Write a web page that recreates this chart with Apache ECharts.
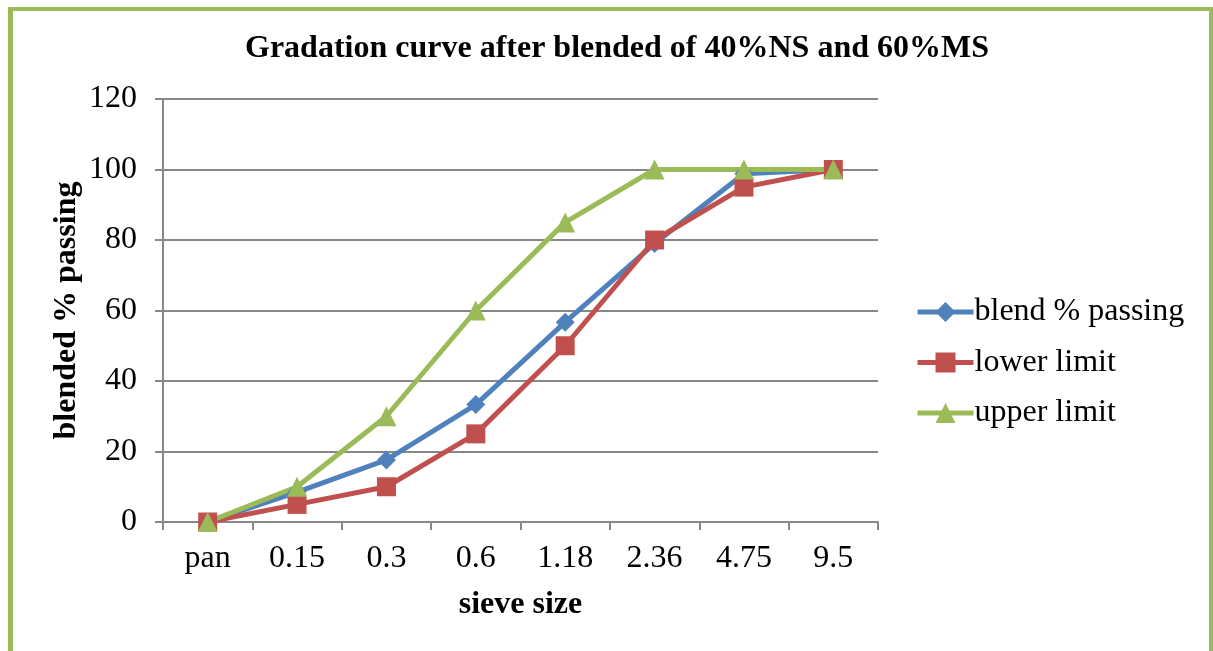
<!DOCTYPE html>
<html>
<head>
<meta charset="utf-8">
<script src="https://cdn.jsdelivr.net/npm/echarts@6/dist/echarts.min.js"></script>
<style>
  html, body { margin: 0; padding: 0; background: #fff; }
  #chart { width: 1213px; height: 651px; }
</style>
</head>
<body>
<div id="chart"></div>
<script>
// Sieve sizes (mm) on the category axis
const sieveSizes = ['pan', '0.15', '0.3', '0.6', '1.18', '2.36', '4.75', '9.5'];
// Percent passing for the blended sand and the specification band
const blendPassing = [0, 8.5, 17.6, 33.3, 56.7, 79, 98.8, 100];
const lowerLimit = [0, 5, 10, 25, 50, 80, 95, 100];
const upperLimit = [0, 10, 30, 60, 85, 100, 100, 100];

const serif = "'Liberation Serif', 'Times New Roman', serif";
const gridGray = '#878787';
const green = '#9BBB59';

const chart = echarts.init(document.getElementById('chart'), null, { renderer: 'canvas' });

function lineSeries(name, data, color, symbol, size) {
  return {
    name: name,
    type: 'line',
    data: data,
    symbol: symbol,
    symbolSize: size,
    showAllSymbol: true,
    lineStyle: { color: color, width: 5 },
    itemStyle: { color: color },
    emphasis: { disabled: true },
    animation: false
  };
}

chart.setOption({
  animation: false,
  backgroundColor: '#ffffff',
  title: {
    text: 'Gradation curve after blended of 40%NS and 60%MS',
    left: 612,
    textAlign: 'center',
    top: 28,
    textStyle: { fontFamily: serif, fontSize: 32, fontWeight: 'bold', color: '#000' }
  },
  legend: {
    orient: 'vertical',
    left: 915,
    top: 296,
    padding: 0,
    itemWidth: 56,
    itemHeight: 25,
    itemGap: 18.5,
    lineStyle: { width: 5 },
    textStyle: { fontFamily: serif, fontSize: 32, color: '#000', padding: [0, 0, 0, -4] },
    data: ['blend % passing', 'lower limit', 'upper limit']
  },
  grid: { left: 163, right: 335, top: 99, bottom: 129, containLabel: false },
  xAxis: {
    type: 'category',
    data: sieveSizes,
    boundaryGap: true,
    name: 'sieve size',
    nameLocation: 'middle',
    nameGap: 67,
    nameMoveOverlap: false,
    nameTextStyle: { fontFamily: serif, fontSize: 32, fontWeight: 'bold', color: '#000' },
    axisLine: { lineStyle: { color: gridGray, width: 2 } },
    axisTick: { show: true, length: 8, inside: false, lineStyle: { color: gridGray, width: 2 } },
    axisLabel: { fontFamily: serif, fontSize: 32, color: '#000', margin: 21 },
    splitLine: { show: false }
  },
  yAxis: {
    type: 'value',
    min: 0,
    max: 120,
    interval: 20,
    name: 'blended % passing',
    nameLocation: 'middle',
    nameGap: 80,
    nameMoveOverlap: false,
    nameRotate: 90,
    nameTextStyle: { fontFamily: serif, fontSize: 32, fontWeight: 'bold', color: '#000' },
    axisLine: { show: true, lineStyle: { color: gridGray, width: 2 } },
    axisTick: { show: true, length: 8, inside: false, lineStyle: { color: gridGray, width: 2 } },
    axisLabel: { fontFamily: serif, fontSize: 32, color: '#000', margin: 26 },
    splitLine: { show: true, lineStyle: { color: gridGray, width: 2 } }
  },
  graphic: [
    // green frame: top, left and right edges
    { type: 'rect', shape: { x: 8, y: 7, width: 1205, height: 4 }, style: { fill: green }, silent: true },
    { type: 'rect', shape: { x: 8, y: 7, width: 5, height: 644 }, style: { fill: green }, silent: true },
    { type: 'rect', shape: { x: 1209, y: 7, width: 4, height: 644 }, style: { fill: green }, silent: true }
  ],
  series: [
    lineSeries('blend % passing', blendPassing, '#4F81BD', 'diamond', 19),
    lineSeries('lower limit', lowerLimit, '#C0504D', 'rect', 19),
    lineSeries('upper limit', upperLimit, '#9BBB59', 'triangle', 20)
  ]
});
</script>
</body>
</html>
